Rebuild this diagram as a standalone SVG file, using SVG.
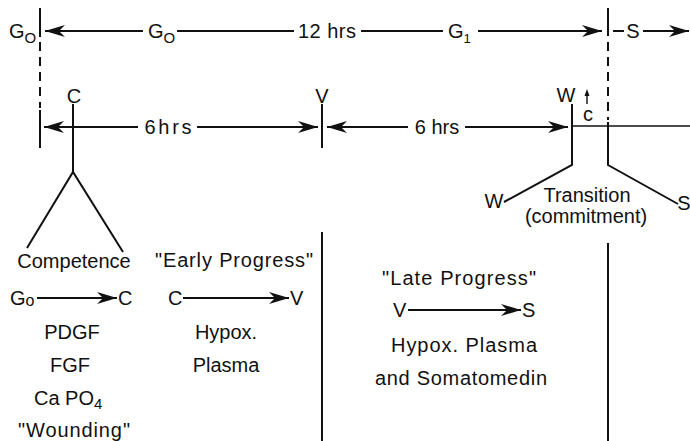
<svg xmlns="http://www.w3.org/2000/svg" width="690" height="441" viewBox="0 0 690 441">
<style>
.t{font-family:"Liberation Sans",Arial,sans-serif;font-size:20px;fill:#111}
.m{text-anchor:middle}
.ln{stroke:#111;stroke-width:2;fill:none}
.thin{stroke:#111;stroke-width:1.4;fill:none}
.ds{stroke:#111;stroke-width:2;fill:none;stroke-dasharray:9 6}
.ar{stroke:#111;stroke-width:2;fill:none;marker-end:url(#ah)}
</style>
<defs>
<marker id="ah" viewBox="0 0 20 12" refX="20" refY="6" markerWidth="20" markerHeight="12" markerUnits="userSpaceOnUse" orient="auto">
<path d="M0,0 L20,6 L0,12 L6,6 z" fill="#111"/>
</marker>
</defs>
<rect width="690" height="441" fill="#fff"/>
<g id="connectors">
<line class="ln" x1="40" y1="8" x2="40" y2="37"/>
<line class="ds" x1="40" y1="42" x2="40" y2="108"/>
<line class="ln" x1="40" y1="110" x2="40" y2="148"/>
<line class="ln" x1="608" y1="8" x2="608" y2="36"/>
<line class="ds" x1="608" y1="42" x2="608" y2="120"/>
<polyline class="ln" points="608,122 608,165 678,204"/>
<line class="ln" x1="608" y1="243" x2="608" y2="441"/>
<line class="ar" x1="143" y1="31" x2="45" y2="31"/>
<line class="ln" x1="177" y1="31" x2="294" y2="31"/>
<line class="ln" x1="361" y1="31" x2="443" y2="31"/>
<line class="ar" x1="478" y1="31" x2="602" y2="31"/>
<line class="ln" x1="613" y1="31" x2="624" y2="31"/>
<line class="ar" x1="643" y1="31" x2="689" y2="31"/>
<polyline class="ln" points="27,248 73,172 123,252"/>
<line class="ln" x1="73" y1="104" x2="73" y2="172"/>
<line class="ln" x1="322" y1="104" x2="322" y2="148"/>
<line class="ln" x1="322" y1="232" x2="322" y2="441"/>
<polyline class="ln" points="572,104 572,165 504,202"/>
<line class="ar" x1="138" y1="127" x2="44" y2="127"/>
<line class="ar" x1="197" y1="127" x2="318" y2="127"/>
<line class="ar" x1="408" y1="127" x2="327" y2="127"/>
<line class="ar" x1="465" y1="127" x2="568" y2="127"/>
<line class="thin" x1="572" y1="126" x2="690" y2="126"/>
<line class="thin" x1="587" y1="104" x2="587" y2="94"/>
<path d="M584.5,96 L587,89 L589.5,96 z" fill="#111"/>
<line class="ar" x1="37" y1="298" x2="117" y2="298"/>
<line class="ar" x1="183" y1="298" x2="289" y2="298"/>
<line class="ar" x1="408" y1="310" x2="521" y2="310"/>
</g>
<g id="top-labels">
<text class="t" x="9" y="38" font-size="18">G<tspan font-size="15" dy="5">O</tspan></text>
<text class="t" x="148" y="38" font-size="18">G<tspan font-size="15" dy="5">O</tspan></text>
<text class="t m" x="327" y="38" textLength="58">12 hrs</text>
<text class="t" x="448" y="38" font-size="18">G<tspan font-size="13" dy="5">1</tspan></text>
<text class="t m" x="633" y="38" font-size="18">S</text>
</g>
<g id="node-C"><text class="t m" x="74" y="103">C</text></g>
<g id="node-V"><text class="t m" x="322" y="103">V</text></g>
<g id="node-W"><text class="t m" x="566" y="102">W</text>
<text class="t m" x="588" y="121">c</text></g>
<g id="hrs-labels">
<text class="t m" x="168" y="134" font-size="21" textLength="47">6hrs</text>
<text class="t m" x="437" y="134" font-size="21">6 hrs</text>
</g>
<g id="node-transition">
<text class="t m" x="494" y="208">W</text>
<text class="t m" x="684" y="210">S</text>
<text class="t m" x="587" y="202" font-size="18.5">Transition</text>
<text class="t m" x="586" y="223" font-size="18">(commitment)</text>
</g>
<g id="node-competence">
<text class="t m" x="74" y="268">Competence</text>
<text class="t" x="10" y="305">G<tspan font-size="16" dy="1">o</tspan></text>
<text class="t" x="118" y="305">C</text>
<text class="t m" x="72" y="339">PDGF</text>
<text class="t m" x="70" y="372">FGF</text>
<text class="t" x="34" y="405">Ca PO<tspan font-size="15" dy="4">4</tspan></text>
<text class="t m" x="74" y="437" textLength="112">"Wounding"</text>
</g>
<g id="node-early">
<text class="t m" x="234" y="267" textLength="158">"Early Progress"</text>
<text class="t" x="168" y="305">C</text>
<text class="t" x="290" y="305">V</text>
<text class="t m" x="226" y="339">Hypox.</text>
<text class="t m" x="226" y="372">Plasma</text>
</g>
<g id="node-late">
<text class="t m" x="459" y="285" textLength="154">"Late Progress"</text>
<text class="t" x="393" y="317">V</text>
<text class="t" x="522" y="317">S</text>
<text class="t m" x="464" y="352" textLength="146">Hypox. Plasma</text>
<text class="t m" x="461" y="385" textLength="172">and Somatomedin</text>
</g>
</svg>
